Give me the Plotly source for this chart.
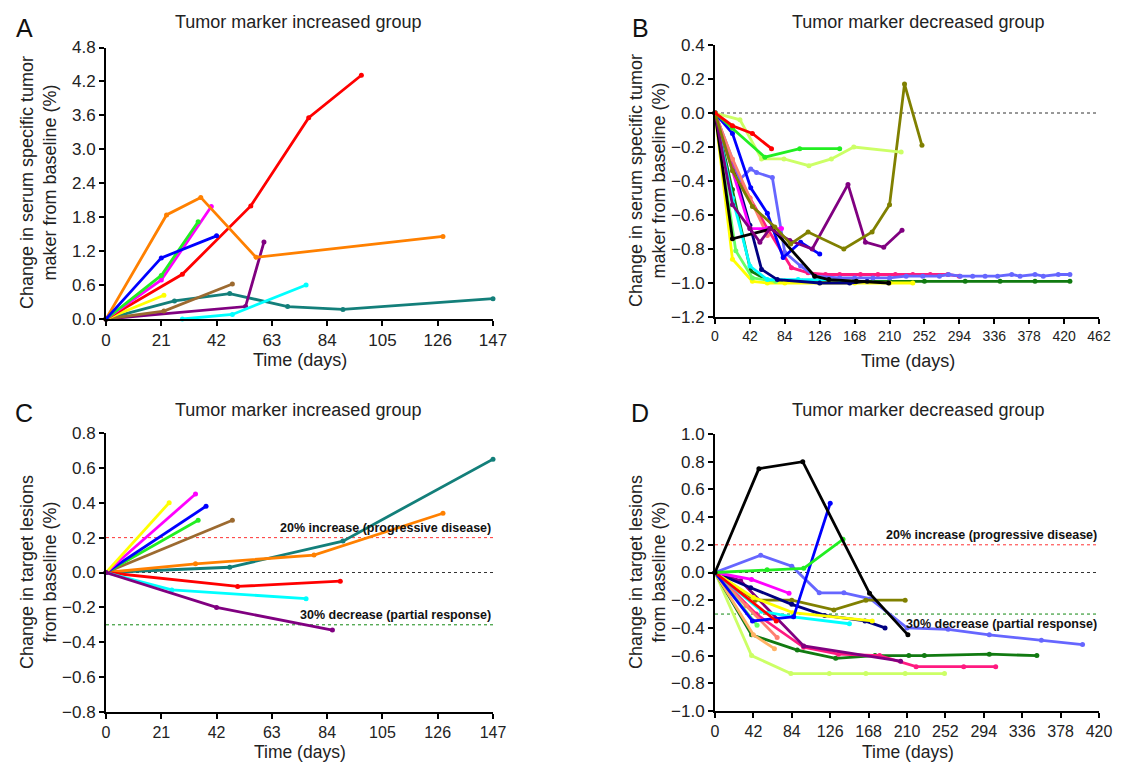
import plotly.graph_objects as go

# ---------------- DATA ----------------
# Panel A: tumor marker change, increased group
a_red_days = [0, 29, 55, 77, 97]
a_red_vals = [0, 0.79, 2.0, 3.56, 4.31]
a_orange_days = [0, 23, 36, 57, 128]
a_orange_vals = [0, 1.84, 2.15, 1.09, 1.46]
a_blue_days = [0, 21, 42]
a_blue_vals = [0, 1.08, 1.47]
a_green_days = [0, 21, 35]
a_green_vals = [0, 0.77, 1.72]
a_magenta_days = [0, 21, 40]
a_magenta_vals = [0, 0.69, 1.99]
a_yellow_days = [0, 22]
a_yellow_vals = [0, 0.42]
a_brown_days = [0, 22, 48]
a_brown_vals = [0, 0.14, 0.62]
a_teal_days = [0, 26, 47, 69, 90, 147]
a_teal_vals = [0, 0.32, 0.45, 0.22, 0.17, 0.36]
a_purple_days = [0, 53, 60]
a_purple_vals = [0, 0.22, 1.36]
a_cyan_days = [29, 48, 76]
a_cyan_vals = [0, 0.08, 0.60]

# Panel B: tumor marker change, decreased group
b_red_days = [0, 21, 45, 68]
b_red_vals = [0, -0.075, -0.12, -0.21]
b_green_days = [0, 21, 60, 102, 150]
b_green_vals = [0, -0.09, -0.26, -0.21, -0.21]
b_lime_days = [0, 30, 56, 83, 113, 140, 167, 224]
b_lime_vals = [0, -0.04, -0.27, -0.27, -0.31, -0.27, -0.20, -0.23]
b_olive_days = [0, 21, 45, 72, 91, 112, 155, 189, 210, 228, 249]
b_olive_vals = [0, -0.34, -0.55, -0.67, -0.77, -0.70, -0.80, -0.70, -0.54, 0.17, -0.19]
b_purple_days = [0, 21, 42, 54, 66, 90, 117, 160, 181, 203, 225]
b_purple_vals = [0, -0.54, -0.68, -0.76, -0.68, -0.75, -0.80, -0.42, -0.76, -0.79, -0.69]
b_periwinkle_days = [0, 30, 43, 50, 69, 84, 103, 120, 150, 168, 190, 210, 230, 250, 270,
                     281, 295, 310, 325, 340, 357, 367, 385, 395, 413, 427]
b_periwinkle_vals = [0, -0.39, -0.33, -0.35, -0.38, -0.82, -0.90, -0.96, -0.97, -0.97, -0.97,
                     -0.97, -0.96, -0.96, -0.96, -0.95, -0.96, -0.96, -0.96, -0.96, -0.95,
                     -0.96, -0.95, -0.96, -0.95, -0.95]
b_blue_days = [0, 21, 43, 63, 82, 103, 126]
b_blue_vals = [0, -0.12, -0.44, -0.59, -0.85, -0.76, -0.83]
b_magenta_days = [0, 42, 63, 80]
b_magenta_vals = [0, -0.68, -0.68, -0.68]
b_salmon_days = [0, 21, 42, 63]
b_salmon_vals = [0, -0.27, -0.50, -0.72]
b_pink_days = [0, 21, 42, 63, 92, 112, 133, 150, 175, 196, 217, 238, 259, 280, 294]
b_pink_vals = [0, -0.30, -0.50, -0.68, -0.91, -0.94, -0.95, -0.95, -0.95, -0.95, -0.95,
               -0.95, -0.95, -0.95, -0.96]
b_black_days = [0, 21, 69, 120, 137, 170, 209]
b_black_vals = [0, -0.74, -0.68, -0.96, -0.98, -0.99, -1.0]
b_yellow_days = [0, 21, 45, 63, 84, 126, 168, 210, 238]
b_yellow_vals = [0, -0.86, -0.99, -1.0, -1.0, -1.0, -1.0, -1.0, -1.0]
b_palegreen_days = [0, 25, 45, 73]
b_palegreen_vals = [0, -0.81, -0.97, -0.99]
b_cyan_days = [0, 21, 42, 63, 100, 150]
b_cyan_vals = [0, -0.50, -0.90, -0.98, -0.98, -0.98]
b_navy_days = [0, 21, 42, 56, 75, 126, 162, 183]
b_navy_vals = [0, -0.30, -0.66, -0.92, -0.98, -1.0, -1.0, -0.99]
b_darkgreen_days = [0, 21, 43, 66, 84, 105, 126, 147, 168, 210, 252, 301, 343, 385, 427]
b_darkgreen_vals = [0, -0.45, -0.93, -0.99, -0.99, -0.99, -0.99, -0.99, -0.99, -0.99,
                    -0.99, -0.99, -0.99, -0.99, -0.99]

# Panel C: target lesion change, increased group
c_yellow_days = [0, 24]
c_yellow_vals = [0, 0.40]
c_magenta_days = [0, 34]
c_magenta_vals = [0, 0.45]
c_blue_days = [0, 38]
c_blue_vals = [0, 0.38]
c_green_days = [0, 35]
c_green_vals = [0, 0.30]
c_brown_days = [0, 48]
c_brown_vals = [0, 0.30]
c_teal_days = [0, 47, 90, 147]
c_teal_vals = [0, 0.03, 0.18, 0.65]
c_orange_days = [0, 34, 79, 128]
c_orange_vals = [0, 0.05, 0.10, 0.34]
c_red_days = [0, 50, 89]
c_red_vals = [0, -0.08, -0.05]
c_cyan_days = [0, 25, 76]
c_cyan_vals = [0, -0.10, -0.15]
c_purple_days = [0, 42, 86]
c_purple_vals = [0, -0.20, -0.33]

# Panel D: target lesion change, decreased group
d_black_days = [0, 48, 96, 169, 211]
d_black_vals = [0, 0.75, 0.80, -0.15, -0.45]
d_blue_days = [0, 41, 86, 126]
d_blue_vals = [0, -0.35, -0.32, 0.50]
d_green_days = [0, 57, 97, 140]
d_green_vals = [0, 0.02, 0.03, 0.24]
d_periwinkle_days = [0, 50, 84, 114, 141, 170, 210, 255, 300, 357, 402]
d_periwinkle_vals = [0, 0.125, 0.046, -0.147, -0.147, -0.19, -0.40, -0.41, -0.45, -0.49, -0.52]
d_olive_days = [0, 44, 84, 130, 165, 208]
d_olive_vals = [0, -0.20, -0.20, -0.27, -0.20, -0.20]
d_navy_days = [0, 39, 84, 120, 164, 186]
d_navy_vals = [0, -0.11, -0.23, -0.31, -0.35, -0.40]
d_magenta_days = [0, 40, 81]
d_magenta_vals = [0, -0.05, -0.15]
d_yellow_days = [0, 42, 85, 172]
d_yellow_vals = [0, -0.18, -0.29, -0.35]
d_cyan_days = [0, 51, 85, 147]
d_cyan_vals = [0, -0.28, -0.32, -0.37]
d_red_days = [0, 67]
d_red_vals = [0, -0.35]
d_salmon_days = [0, 34, 68]
d_salmon_vals = [0, -0.24, -0.47]
d_lightorange_days = [0, 42, 65]
d_lightorange_vals = [0, -0.45, -0.55]
d_palegreen_days = [0, 46]
d_palegreen_vals = [0, -0.38]
d_darkgreen_days = [0, 40, 90, 132, 175, 212, 229, 300, 352]
d_darkgreen_vals = [0, -0.45, -0.56, -0.62, -0.60, -0.60, -0.60, -0.59, -0.60]
d_lime_days = [0, 40, 83, 125, 165, 208, 251]
d_lime_vals = [0, -0.60, -0.73, -0.73, -0.73, -0.73, -0.73]
d_pink_days = [0, 45, 97, 135, 180, 220, 272, 307]
d_pink_vals = [0, -0.30, -0.54, -0.59, -0.60, -0.68, -0.68, -0.68]
d_purple_days = [0, 28, 97, 203]
d_purple_vals = [0, -0.06, -0.53, -0.64]

# Axis ticks
a_xticks = [0, 21, 42, 63, 84, 105, 126, 147]
a_yticks = [0.0, 0.6, 1.2, 1.8, 2.4, 3.0, 3.6, 4.2, 4.8]
b_xticks = [0, 42, 84, 126, 168, 210, 252, 294, 336, 378, 420, 462]
b_yticks = [0.4, 0.2, 0.0, -0.2, -0.4, -0.6, -0.8, -1.0, -1.2]
c_xticks = [0, 21, 42, 63, 84, 105, 126, 147]
c_yticks = [0.8, 0.6, 0.4, 0.2, 0.0, -0.2, -0.4, -0.6, -0.8]
d_xticks = [0, 42, 84, 126, 168, 210, 252, 294, 336, 378, 420]
d_yticks = [1.0, 0.8, 0.6, 0.4, 0.2, 0.0, -0.2, -0.4, -0.6, -0.8, -1.0]

# Reference levels
progressive_level = 0.2
partial_level = -0.3
baseline_level = 0.0

# ---------------- STYLE ----------------
COL = {
    "red": "#ff0000", "orange": "#ff8000", "blue": "#0000ff", "green": "#22ee22",
    "magenta": "#ff00ff", "yellow": "#ffff00", "brown": "#9c6a30", "teal": "#137f7a",
    "purple": "#800080", "cyan": "#00ffff", "lime": "#ccff66", "olive": "#808000",
    "periwinkle": "#6666ff", "salmon": "#ff7f6f", "pink": "#ff1a80", "black": "#000000",
    "palegreen": "#66ff66", "navy": "#000080", "darkgreen": "#117a11",
    "lightorange": "#ffb366",
}

OFF = 8            # page body margin offset
W, H = 1105, 754   # figure size (visible area after page margin)
def fx(p):
    return (p - OFF) / W
def fy(p):
    return 1 - (p - OFF) / H

fig = go.Figure()

def add(days, vals, color, ax):
    fig.add_trace(go.Scatter(
        x=days, y=vals, mode="lines+markers", xaxis="x" + ax, yaxis="y" + ax,
        line=dict(color=COL[color], width=2.8),
        marker=dict(color=COL[color], size=5),
        cliponaxis=False, showlegend=False, hoverinfo="skip"))

def refline(xmax, level, color, ax):
    fig.add_trace(go.Scatter(
        x=[0, xmax], y=[level, level], mode="lines", xaxis="x" + ax, yaxis="y" + ax,
        line=dict(color=color, width=1, dash="dot"), showlegend=False, hoverinfo="skip"))

# Panel A (axis "")
for d, v, c in [
    (a_teal_days, a_teal_vals, "teal"), (a_purple_days, a_purple_vals, "purple"),
    (a_cyan_days, a_cyan_vals, "cyan"), (a_brown_days, a_brown_vals, "brown"),
    (a_yellow_days, a_yellow_vals, "yellow"), (a_red_days, a_red_vals, "red"),
    (a_magenta_days, a_magenta_vals, "magenta"), (a_green_days, a_green_vals, "green"),
    (a_orange_days, a_orange_vals, "orange"), (a_blue_days, a_blue_vals, "blue")]:
    add(d, v, c, "")

# Panel B (axis "2")
refline(462, baseline_level, "#333333", "2")
for d, v, c in [
    (b_darkgreen_days, b_darkgreen_vals, "darkgreen"), (b_yellow_days, b_yellow_vals, "yellow"),
    (b_palegreen_days, b_palegreen_vals, "palegreen"), (b_cyan_days, b_cyan_vals, "cyan"),
    (b_navy_days, b_navy_vals, "navy"), (b_pink_days, b_pink_vals, "pink"),
    (b_periwinkle_days, b_periwinkle_vals, "periwinkle"), (b_salmon_days, b_salmon_vals, "salmon"),
    (b_magenta_days, b_magenta_vals, "magenta"), (b_blue_days, b_blue_vals, "blue"),
    (b_black_days, b_black_vals, "black"), (b_purple_days, b_purple_vals, "purple"),
    (b_olive_days, b_olive_vals, "olive"), (b_lime_days, b_lime_vals, "lime"),
    (b_green_days, b_green_vals, "green"), (b_red_days, b_red_vals, "red")]:
    add(d, v, c, "2")

# Panel C (axis "3")
refline(147, progressive_level, "#ff3333", "3")
refline(147, baseline_level, "#333333", "3")
refline(147, partial_level, "#118811", "3")
for d, v, c in [
    (c_teal_days, c_teal_vals, "teal"), (c_orange_days, c_orange_vals, "orange"),
    (c_brown_days, c_brown_vals, "brown"), (c_green_days, c_green_vals, "green"),
    (c_blue_days, c_blue_vals, "blue"), (c_magenta_days, c_magenta_vals, "magenta"),
    (c_yellow_days, c_yellow_vals, "yellow"), (c_red_days, c_red_vals, "red"),
    (c_cyan_days, c_cyan_vals, "cyan"), (c_purple_days, c_purple_vals, "purple")]:
    add(d, v, c, "3")

# Panel D (axis "4")
refline(420, progressive_level, "#ff3333", "4")
refline(420, baseline_level, "#333333", "4")
refline(420, partial_level, "#118811", "4")
for d, v, c in [
    (d_lime_days, d_lime_vals, "lime"), (d_darkgreen_days, d_darkgreen_vals, "darkgreen"),
    (d_pink_days, d_pink_vals, "pink"), (d_purple_days, d_purple_vals, "purple"),
    (d_lightorange_days, d_lightorange_vals, "lightorange"), (d_salmon_days, d_salmon_vals, "salmon"),
    (d_palegreen_days, d_palegreen_vals, "palegreen"), (d_periwinkle_days, d_periwinkle_vals, "periwinkle"),
    (d_olive_days, d_olive_vals, "olive"), (d_navy_days, d_navy_vals, "navy"),
    (d_yellow_days, d_yellow_vals, "yellow"), (d_cyan_days, d_cyan_vals, "cyan"),
    (d_magenta_days, d_magenta_vals, "magenta"), (d_blue_days, d_blue_vals, "blue"),
    (d_red_days, d_red_vals, "red"), (d_green_days, d_green_vals, "green"),
    (d_black_days, d_black_vals, "black")]:
    add(d, v, c, "4")

FONT = "Liberation Sans, Arial, sans-serif"
TXT = "#222222"

def xax(dom, rng, ticks, anchor, size=17):
    return dict(domain=dom, range=rng, tickvals=ticks, ticktext=[str(t) for t in ticks],
                showline=True, linecolor="black", linewidth=2, ticks="outside",
                ticklen=5, tickwidth=2, tickcolor="black", showgrid=False, zeroline=False,
                automargin=False, anchor=anchor, tickfont=dict(size=size, color=TXT, family=FONT))

def yax(dom, rng, ticks, anchor):
    return dict(domain=dom, range=rng, tickvals=ticks,
                ticktext=[f"{t:.1f}".replace("-", "\u2212") for t in ticks],
                showline=True, linecolor="black", linewidth=2, ticks="outside",
                ticklen=5, tickwidth=2, tickcolor="black", showgrid=False, zeroline=False,
                automargin=False, anchor=anchor, tickfont=dict(size=17, color=TXT, family=FONT))

left_dom = [fx(106), fx(493)]
right_dom = [fx(715), fx(1099)]

fig.update_layout(
    template="none",
    width=W, height=H, margin=dict(l=0, r=0, t=0, b=0, pad=0),
    paper_bgcolor="white", plot_bgcolor="white", font=dict(family=FONT, color=TXT),
    xaxis=xax(left_dom, [0, 147], a_xticks, "y"),
    yaxis=yax([fy(319), fy(47.5)], [0, 4.8], a_yticks, "x"),
    xaxis2=xax(right_dom, [0, 462], b_xticks, "y2", size=14),
    yaxis2=yax([fy(317), fy(45)], [-1.2, 0.4], b_yticks, "x2"),
    xaxis3=xax(left_dom, [0, 147], c_xticks, "y3", size=16),
    yaxis3=yax([fy(712), fy(433)], [-0.8, 0.8], c_yticks, "x3"),
    xaxis4=xax(right_dom, [0, 420], d_xticks, "y4", size=16),
    yaxis4=yax([fy(711), fy(434)], [-1.0, 1.0], d_yticks, "x4"),
)

ann = []
def label(text, x, y, size, **kw):
    col = kw.pop("color", TXT)
    ann.append(dict(text=text, x=fx(x), y=fy(y), xref="paper", yref="paper",
                    xanchor="center", yanchor="middle",
                    showarrow=False, font=dict(size=size, color=col, family=FONT), **kw))

# panel letters
label("A", 24, 28, 25, color="#111111")
label("B", 640, 28, 25, color="#111111")
label("C", 24, 413, 25, color="#111111")
label("D", 640, 413, 25, color="#111111")
# titles
label("Tumor marker increased group", 298, 22, 18)
label("Tumor marker decreased group", 918, 22, 18)
label("Tumor marker increased group", 298, 410, 18)
label("Tumor marker decreased group", 918, 410, 18)
# x titles
label("Time (days)", 300, 360, 18)
label("Time (days)", 908, 361, 18)
label("Time (days)", 300, 752, 17.5)
label("Time (days)", 908, 752, 17.5)
# y titles
label("Change in serum specific tumor<br>maker from baseline (%)", 38, 183, 18, textangle=-90)
label("Change in serum specific tumor<br>maker from baseline (%)", 647, 181, 18, textangle=-90)
label("Change in target lesions<br>from baseline (%)", 38, 572, 18, textangle=-90)
label("Change in target lesions<br>from baseline (%)", 647, 572, 18, textangle=-90)

# reference labels (data coords)
RF = dict(size=12.5, color="#111111", family="Liberation Sans Narrow, Liberation Sans, Arial")
ann += [
    dict(text="<b>20% increase (progressive disease)</b>", x=147, y=progressive_level, xref="x3", yref="y3",
         xanchor="right", yanchor="bottom", showarrow=False, font=RF, yshift=1),
    dict(text="<b>30% decrease (partial response)</b>", x=147, y=partial_level, xref="x3", yref="y3",
         xanchor="right", yanchor="bottom", showarrow=False, font=RF, yshift=1),
    dict(text="<b>20% increase (progressive disease)</b>", x=420, y=progressive_level, xref="x4", yref="y4",
         xanchor="right", yanchor="bottom", showarrow=False, font=RF, yshift=1),
    dict(text="<b>30% decrease (partial response)</b>", x=420, y=partial_level, xref="x4", yref="y4",
         xanchor="right", yanchor="top", showarrow=False, font=RF, yshift=-1),
]
fig.update_layout(annotations=ann)

fig.write_html("out.html")
